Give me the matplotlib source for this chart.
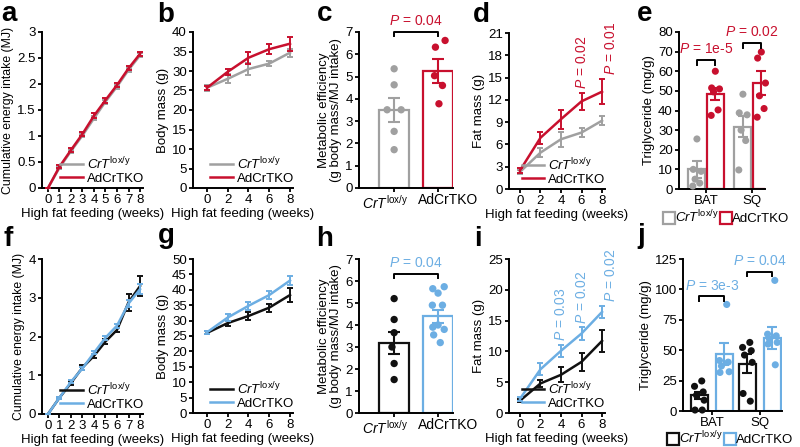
import numpy as np
import matplotlib
matplotlib.use("Agg")
import matplotlib.pyplot as plt
from matplotlib.lines import Line2D

plt.rcParams['font.family'] = ['Liberation Sans', 'DejaVu Sans']
plt.rcParams['mathtext.fontset'] = 'custom'
plt.rcParams['mathtext.rm'] = 'Liberation Sans'
plt.rcParams['mathtext.it'] = 'Liberation Sans:italic'
plt.rcParams['mathtext.bf'] = 'Liberation Sans:bold'
plt.rcParams['font.size'] = 9

red = "#c8102e"
gray = "#a0a0a0"
blue = "#6caee3"
black = "#111111"

ctrl_label = r'$\mathit{CrT}^{\mathrm{lox/y}}$'
ko_label = 'AdCrTKO'

# ---- top row (a-e) ----
weeks_all = [0, 1, 2, 3, 4, 5, 6, 7, 8]
weeks_even = [0, 2, 4, 6, 8]

a_ctrl = [0, 0.39, 0.71, 1.01, 1.34, 1.66, 1.95, 2.27, 2.55]
a_ctrl_err = [0, 0.02, 0.03, 0.03, 0.04, 0.04, 0.04, 0.04, 0.04]
a_ko = [0, 0.41, 0.73, 1.04, 1.39, 1.69, 1.98, 2.30, 2.58]
a_ko_err = [0, 0.03, 0.03, 0.04, 0.05, 0.05, 0.04, 0.04, 0.04]

b_ctrl = [25.7, 28.0, 30.5, 31.9, 34.7]
b_ctrl_err = [0.8, 1.2, 1.5, 0.7, 1.0]
b_ko = [25.7, 29.8, 33.4, 35.6, 37.0]
b_ko_err = [0.5, 0.8, 1.5, 1.2, 1.8]

c_ctrl_pts = [5.35, 4.63, 3.51, 3.51, 2.54, 1.72]
c_ko_pts = [6.62, 6.32, 5.04, 4.60, 3.78]
c_means = [3.5, 5.25]
c_sems = [0.55, 0.55]

d_ctrl = [2.3, 4.9, 6.7, 7.6, 9.2]
d_ctrl_err = [0.3, 0.6, 1.0, 0.6, 0.6]
d_ko = [2.5, 6.9, 9.4, 11.8, 13.1]
d_ko_err = [0.3, 0.8, 1.3, 1.1, 1.7]
d_pvals = {6: 'P = 0.02', 8: 'P = 0.01'}

tissues = ['BAT', 'SQ']
e_ctrl_pts = [[25.5, 10.0, 9.0, 5.0, 3.0, 1.5], [48.3, 38.8, 37.8, 30.0, 24.7, 9.7]]
e_ko_pts = [[60.0, 51.5, 51.0, 49.5, 40.3, 37.5], [69.8, 66.7, 54.0, 47.5, 41.0, 36.6]]
e_ctrl_means = [10.0, 31.8]
e_ctrl_sems = [4.5, 5.5]
e_ko_means = [48.3, 54.0]
e_ko_sems = [3.0, 6.0]
e_pvals = ['P = 1e-5', 'P = 0.02']

# ---- bottom row (f-j) ----
f_ctrl = [0, 0.42, 0.80, 1.20, 1.50, 1.87, 2.17, 2.88, 3.30]
f_ctrl_err = [0, 0.03, 0.05, 0.07, 0.06, 0.07, 0.05, 0.22, 0.25]
f_ko = [0, 0.42, 0.83, 1.18, 1.58, 1.97, 2.28, 2.85, 3.22]
f_ko_err = [0, 0.03, 0.04, 0.04, 0.04, 0.05, 0.05, 0.10, 0.13]

g_ctrl = [26.0, 29.2, 31.5, 34.2, 38.3]
g_ctrl_err = [0.5, 0.8, 1.3, 1.3, 2.3]
g_ko = [26.2, 31.0, 34.8, 38.3, 43.0]
g_ko_err = [0.5, 1.2, 1.3, 1.4, 1.5]

h_ctrl_pts = [5.2, 4.25, 3.65, 3.0, 2.25, 1.52]
h_ko_pts = [5.65, 5.74, 5.45, 4.9, 4.9, 4.0, 3.9, 3.8, 3.55, 3.2]
h_means = [3.2, 4.4]
h_sems = [0.5, 0.3]

i_ctrl = [2.0, 4.8, 6.2, 8.3, 11.7]
i_ctrl_err = [0.2, 0.5, 1.2, 1.5, 1.8]
i_ko = [2.3, 7.1, 10.1, 12.9, 16.4]
i_ko_err = [0.3, 1.0, 1.0, 1.0, 1.0]
i_pvals = {4: 'P = 0.03', 6: 'P = 0.02', 8: 'P = 0.02'}

j_ctrl_pts = [[24.7, 20.3, 15.7, 13.0, 8.9, 0.8, 0.8], [56.4, 52.3, 49.6, 46.0, 40.0, 14.4, 8.1]]
j_ko_pts = [[87.6, 41.5, 40.2, 37.0, 32.3, 31.7], [107.4, 63.2, 61.8, 59.0, 56.4, 55.0, 38.0]]
j_ctrl_means = [13.0, 39.0]
j_ctrl_sems = [3.0, 8.0]
j_ko_means = [47.0, 60.0]
j_ko_sems = [9.0, 9.0]
j_pvals = ['P = 3e-3', 'P = 0.04']


def ptext(s):
    return r'$P$' + s[1:]


fig = plt.figure(figsize=(8, 4.47), dpi=100)


def make_axes(x0, x1, ytop, ybot):
    return fig.add_axes([x0 / 800, 1 - ybot / 447, (x1 - x0) / 800, (ybot - ytop) / 447])


def style(ax):
    ax.spines['top'].set_visible(False)
    ax.spines['right'].set_visible(False)
    for s in ['left', 'bottom']:
        ax.spines[s].set_linewidth(1.4)
    ax.tick_params(direction='out', length=3, width=1.3, pad=1.5, labelsize=9.5)


def line_panel(ax, x, ctrl, ctrl_err, ko, ko_err, c_ctrl, c_ko):
    ax.errorbar(x, ctrl, yerr=ctrl_err, color=c_ctrl, lw=1.8, elinewidth=1.4,
                capsize=2.5, capthick=1.4, zorder=2, clip_on=False)
    ax.errorbar(x, ko, yerr=ko_err, color=c_ko, lw=1.8, elinewidth=1.4,
                capsize=2.5, capthick=1.4, zorder=3, clip_on=False)
    handles = [Line2D([], [], color=c_ctrl, lw=1.8), Line2D([], [], color=c_ko, lw=1.8)]
    ax.legend(handles, [ctrl_label, ko_label], loc='lower right', bbox_to_anchor=(1.1, -0.04),
              frameon=False, fontsize=9.5, handlelength=1.7, handletextpad=0.3,
              labelspacing=0.05, borderpad=0.2)
    ax.set_xlabel('High fat feeding (weeks)', fontsize=9.5, labelpad=1)
    style(ax)


def dot_bar_panel(ax, ctrl_pts, ko_pts, means, sems, c_ctrl, c_ko, jit_ctrl, jit_ko):
    for i, (pts, col, jit) in enumerate([(ctrl_pts, c_ctrl, jit_ctrl), (ko_pts, c_ko, jit_ko)]):
        ax.bar(i, means[i], width=0.68, facecolor='white', edgecolor=col, linewidth=1.6, zorder=1)
        ax.scatter(i + np.array(jit), pts, s=28, color=col, edgecolors='none', zorder=3, clip_on=False)
        ax.errorbar(i, means[i], yerr=sems[i], color=col, capsize=4, elinewidth=1.5,
                    capthick=1.5, zorder=4)
    ax.set_xticks([0, 1])
    ax.set_xticklabels(['', ''])
    # group names sit a little apart from the bar centres, as in the figure
    for xl, lab in [(-0.2, ctrl_label), (1.22, ko_label)]:
        ax.text(xl, -0.035, lab, transform=ax.get_xaxis_transform(), ha='center', va='top',
                fontsize=10)
    ax.set_ylim(0, 7)
    ax.set_yticks(range(0, 8))
    ax.set_ylabel('Metabolic efficiency\n(g body mass/MJ intake)', fontsize=9.5, labelpad=2,
                  linespacing=1.0)
    style(ax)


def grouped_panel(ax, ctrl_pts, ko_pts, cm, cs, km, ks, c_ctrl, c_ko, width, off, jit):
    for k in range(2):
        for sign, pts, m, s, col in [(-1, ctrl_pts[k], cm[k], cs[k], c_ctrl),
                                     (1, ko_pts[k], km[k], ks[k], c_ko)]:
            xc = k + sign * off
            ax.bar(xc, m, width=width, facecolor='white', edgecolor=col, linewidth=1.6, zorder=1)
            ax.scatter(xc + np.array(jit[:len(pts)]), pts, s=26, color=col,
                       edgecolors='none', zorder=3, clip_on=False)
            ax.errorbar(xc, m, yerr=s, color=col, capsize=3.5, elinewidth=1.5,
                        capthick=1.5, zorder=4)
    ax.set_xticks([0, 1])
    ax.set_xticklabels(tissues, fontsize=10)
    ax.tick_params(axis='x', pad=0.5)
    ax.set_ylabel('Triglyceride (mg/g)', fontsize=9.5, labelpad=2)
    style(ax)


def bracket(ax, x0, x1, y, drop, text, color, gap):
    ax.plot([x0, x0, x1, x1], [y - drop, y, y, y - drop], color='black', lw=1.4,
            clip_on=False, zorder=5)
    ax.text((x0 + x1) / 2, y + gap, ptext(text), color=color, ha='center', va='bottom',
            fontsize=10, clip_on=False)


# ---------------- panel a ----------------
ax = make_axes(42, 143, 32, 188)
line_panel(ax, weeks_all, a_ctrl, a_ctrl_err, a_ko, a_ko_err, gray, red)
ax.set_xlim(-0.52, 8.26)
ax.set_xticks(weeks_all)
ax.set_ylim(0, 3)
ax.set_yticks([0, 0.5, 1, 1.5, 2, 2.5, 3])
ax.set_yticklabels(['0', '0.5', '1', '1.5', '2', '2.5', '3'])
ax.set_ylabel('Cumulative energy intake (MJ)', fontsize=8.8, labelpad=2)

# ---------------- panel b ----------------
ax = make_axes(193, 293, 32, 188)
line_panel(ax, weeks_even, b_ctrl, b_ctrl_err, b_ko, b_ko_err, gray, red)
ax.set_xlim(-1.35, 8.29)
ax.set_xticks(weeks_even)
ax.set_ylim(0, 40)
ax.set_yticks(range(0, 41, 5))
ax.set_ylabel('Body mass (g)', fontsize=9.5, labelpad=2)

# ---------------- panel c ----------------
ax = make_axes(359, 453, 32, 188)
dot_bar_panel(ax, c_ctrl_pts, c_ko_pts, c_means, c_sems, gray, red,
              [0, 0, -0.16, 0.16, 0, 0], [0.16, -0.06, -0.08, 0.1, 0.02])
ax.set_xlim(-0.8, 1.34)
bracket(ax, 0, 1, 7.0, 0.18, 'P = 0.04', red, 0.2)

# ---------------- panel d ----------------
ax = make_axes(509, 605, 33, 189)
line_panel(ax, weeks_even, d_ctrl, d_ctrl_err, d_ko, d_ko_err, gray, red)
ax.set_xlim(-1.07, 8.29)
ax.set_xticks(weeks_even)
ax.set_ylim(0, 21)
ax.set_yticks(range(0, 22, 3))
ax.set_ylabel('Fat mass (g)', fontsize=9.5, labelpad=2)
for wk, txt in d_pvals.items():
    idx = weeks_even.index(wk)
    xoff = 0 if wk < 8 else 0.9
    ax.text(wk + xoff, d_ko[idx] + d_ko_err[idx] + 0.5, ptext(txt), rotation=90, color=red,
            ha='center', va='bottom', fontsize=10, clip_on=False)

# ---------------- panel e ----------------
ax = make_axes(679, 765, 32, 189)
grouped_panel(ax, e_ctrl_pts, e_ko_pts, e_ctrl_means, e_ctrl_sems, e_ko_means, e_ko_sems,
              gray, red, 0.37, 0.2, [0, -0.08, 0.09, -0.04, 0.06, -0.09, 0.03])
ax.set_xlim(-0.59, 1.28)
ax.set_ylim(0, 80)
ax.set_yticks(range(0, 81, 10))
bracket(ax, -0.2, 0.2, 65.9, 2.5, e_pvals[0], red, 1.8)
bracket(ax, 0.8, 1.2, 74.4, 2.5, e_pvals[1], red, 1.8)

# ---------------- panel f ----------------
ax = make_axes(42, 143, 259, 414)
line_panel(ax, weeks_all, f_ctrl, f_ctrl_err, f_ko, f_ko_err, black, blue)
ax.set_xlim(-0.52, 8.26)
ax.set_xticks(weeks_all)
ax.set_ylim(0, 4)
ax.set_yticks(range(0, 5))
ax.set_ylabel('Cumulative energy intake (MJ)', fontsize=8.8, labelpad=2)

# ---------------- panel g ----------------
ax = make_axes(193, 293, 259, 413)
line_panel(ax, weeks_even, g_ctrl, g_ctrl_err, g_ko, g_ko_err, black, blue)
ax.set_xlim(-1.35, 8.29)
ax.set_xticks(weeks_even)
ax.set_ylim(0, 50)
ax.set_yticks(range(0, 51, 5))
ax.set_ylabel('Body mass (g)', fontsize=9.5, labelpad=2)

# ---------------- panel h ----------------
ax = make_axes(359, 453, 259, 413)
dot_bar_panel(ax, h_ctrl_pts, h_ko_pts, h_means, h_sems, black, blue,
              [0, 0, 0, -0.05, 0, 0], [-0.12, 0.14, 0.0, -0.13, 0.1, 0.0, -0.12, 0.14, -0.1, 0.05])
ax.set_xlim(-0.8, 1.34)
bracket(ax, 0, 1, 6.3, 0.18, 'P = 0.04', blue, 0.2)

# ---------------- panel i ----------------
ax = make_axes(509, 605, 259, 413)
line_panel(ax, weeks_even, i_ctrl, i_ctrl_err, i_ko, i_ko_err, black, blue)
ax.set_xlim(-1.07, 8.29)
ax.set_xticks(weeks_even)
ax.set_ylim(0, 25)
ax.set_yticks(range(0, 26, 5))
ax.set_ylabel('Fat mass (g)', fontsize=9.5, labelpad=2)
for wk, txt in i_pvals.items():
    idx = weeks_even.index(wk)
    xoff = 0 if wk < 8 else 0.9
    ax.text(wk + xoff, i_ko[idx] + i_ko_err[idx] + 0.6, ptext(txt), rotation=90, color=blue,
            ha='center', va='bottom', fontsize=10, clip_on=False)

# ---------------- panel j ----------------
ax = make_axes(683, 782, 259, 411)
grouped_panel(ax, j_ctrl_pts, j_ko_pts, j_ctrl_means, j_ctrl_sems, j_ko_means, j_ko_sems,
              black, blue, 0.36, 0.26, [0.05, -0.1, 0.08, -0.06, 0.1, -0.09, 0.06])
ax.set_xlim(-0.6, 1.46)
ax.set_ylim(0, 125)
ax.set_yticks(range(0, 126, 25))
bracket(ax, -0.26, 0.26, 94.4, 4, j_pvals[0], blue, 3)
bracket(ax, 0.74, 1.26, 114.7, 4, j_pvals[1], blue, 3)

# ---------------- legends under e and j ----------------
for xpix, ypix, c_ctrl, c_ko in [(664, 217, gray, red), (668, 438, black, blue)]:
    handles = [Line2D([], [], marker='s', markersize=8.5, markerfacecolor='white',
                      markeredgecolor=c, markeredgewidth=1.6, linestyle='none')
               for c in (c_ctrl, c_ko)]
    fig.legend(handles, [ctrl_label, ko_label], loc='center left',
               bbox_to_anchor=(xpix / 800, 1 - ypix / 447), ncol=2, frameon=False,
               fontsize=9.5, handlelength=0.7, handletextpad=0.12, columnspacing=0.2,
               borderpad=0, borderaxespad=0)

# ---------------- panel letters ----------------
letters = [('a', 1, 21), ('b', 157, 22), ('c', 316, 21), ('d', 472, 22), ('e', 636, 21),
           ('f', 3, 246), ('g', 157, 243), ('h', 316, 246), ('i', 474, 246), ('j', 637, 243)]
for lt, xp, yp in letters:
    fig.text(xp / 800, 1 - yp / 447, r'$\mathbf{' + lt + '}$', fontsize=20, va='baseline')

fig.savefig('out.png', dpi=100)
